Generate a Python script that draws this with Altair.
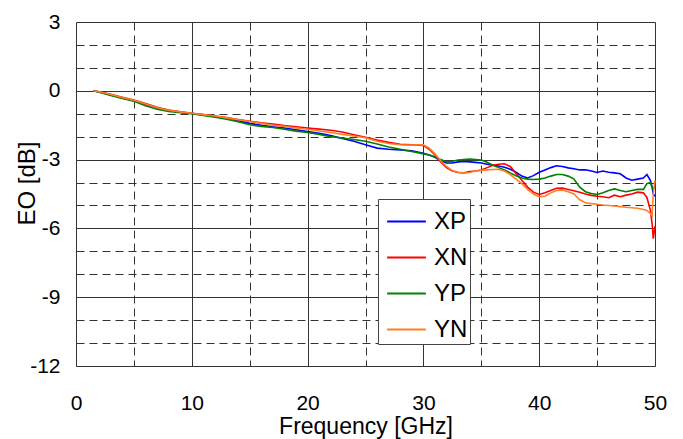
import altair as alt
import pandas as pd

freq = [1.5, 2, 3, 4, 5, 6, 7, 8, 9, 10, 11, 12, 13, 14, 15, 16, 17, 18, 19, 20,
        21, 22, 23, 24, 25, 26, 27, 28, 29, 30,
        30.5, 31, 31.5, 32, 32.5, 33, 33.5, 34, 34.5, 35, 35.5, 36, 36.5, 37, 37.5,
        38, 38.5, 39, 39.5, 40, 40.5, 41, 41.5, 42, 42.5, 43, 43.5, 44, 44.5, 45,
        45.5, 46, 46.5, 47, 47.5, 48, 48.5, 49,
        49.3, 49.6, 49.75, 49.85, 50]

xp = [0, -0.05, -0.18, -0.31, -0.43, -0.6, -0.75, -0.86, -0.93, -0.99,
      -1.05, -1.12, -1.2, -1.3, -1.42, -1.5, -1.57, -1.62, -1.7, -1.78,
      -1.85, -1.95, -2.08, -2.2, -2.35, -2.5, -2.55, -2.58, -2.62, -2.72,
      -2.8, -2.9, -3.05, -3.15, -3.15, -3.1, -3.08, -3.1, -3.12, -3.15,
      -3.2, -3.25, -3.28, -3.33, -3.42, -3.55, -3.72, -3.8, -3.7, -3.55,
      -3.45, -3.35, -3.27, -3.3, -3.36, -3.4, -3.45, -3.44, -3.5, -3.56,
      -3.5, -3.55, -3.58, -3.62, -3.8, -3.9, -3.85, -3.8,
      -3.65, -3.9, -4.2, -4.5, -4.6]

xn = [0, -0.04, -0.15, -0.28, -0.4, -0.55, -0.72, -0.84, -0.92, -0.98,
      -1.03, -1.1, -1.17, -1.25, -1.33, -1.4, -1.45, -1.52, -1.57, -1.62,
      -1.67, -1.72, -1.8, -1.92, -2.03, -2.15, -2.25, -2.33, -2.36, -2.38,
      -2.55, -2.8, -3.1, -3.35, -3.5, -3.56, -3.58, -3.52, -3.5, -3.45,
      -3.35, -3.25, -3.2, -3.18, -3.3, -3.6, -3.9, -4.2, -4.42, -4.52,
      -4.45, -4.35, -4.25, -4.24, -4.3, -4.36, -4.42, -4.5, -4.56, -4.6,
      -4.62, -4.66, -4.55, -4.62, -4.55, -4.5, -4.42, -4.45,
      -4.65, -5.2, -5.8, -6.45, -5.9]

yp = [0, -0.06, -0.2, -0.33, -0.46, -0.65, -0.8, -0.9, -0.95, -1.0,
      -1.07, -1.15, -1.24, -1.35, -1.48, -1.55, -1.6, -1.68, -1.76, -1.82,
      -1.9, -2.0, -2.06, -2.12, -2.2, -2.32, -2.45, -2.55, -2.65, -2.75,
      -2.8, -2.88, -3.0, -3.1, -3.07, -3.02, -3.0, -2.98, -3.0, -3.02,
      -3.12, -3.25, -3.35, -3.45, -3.58, -3.7, -3.8, -3.85, -3.87, -3.85,
      -3.8, -3.72, -3.65, -3.65, -3.72, -3.85, -4.2, -4.4, -4.48, -4.52,
      -4.45, -4.35, -4.28, -4.35, -4.4, -4.35, -4.3, -4.3,
      -4.05, -4.0, -4.2, -4.3, -4.2]

yn = [0, -0.04, -0.16, -0.29, -0.41, -0.58, -0.74, -0.85, -0.92, -0.98,
      -1.04, -1.1, -1.18, -1.26, -1.34, -1.42, -1.5, -1.55, -1.62, -1.68,
      -1.75, -1.82, -1.9, -1.97, -2.05, -2.2, -2.3, -2.35, -2.37, -2.35,
      -2.5, -2.75, -3.05, -3.3, -3.48, -3.55, -3.58, -3.56, -3.5, -3.47,
      -3.45, -3.43, -3.42, -3.5, -3.65, -3.85, -4.05, -4.3, -4.5, -4.62,
      -4.6, -4.45, -4.35, -4.32, -4.4, -4.5, -4.75, -4.88, -4.92, -4.95,
      -4.98, -5.0, -5.02, -5.05, -5.08, -5.1, -5.12, -5.18,
      -5.22, -5.35, -5.45, -4.5, -3.9]

series_names = ["XP", "XN", "YP", "YN"]
series_colors = ["#0000FF", "#FF0000", "#008000", "#FF7F27"]
x_ticks = [0, 5, 10, 15, 20, 25, 30, 35, 40, 45, 50]
y_ticks = list(range(-12, 4))

rows = []
for name, vals in zip(series_names, [xp, xn, yp, yn]):
    for i, (f, v) in enumerate(zip(freq, vals)):
        rows.append({"freq": f, "eo": v, "series": name, "order": i})
df = pd.DataFrame(rows)

FONT = "Liberation Sans"

chart = alt.Chart(df).mark_line(strokeWidth=1.6).encode(
    x=alt.X("freq:Q",
            scale=alt.Scale(domain=[0, 50], nice=False, zero=False),
            axis=alt.Axis(
                values=x_ticks,
                title="Frequency [GHz]",
                labelExpr="datum.value % 10 === 0 ? '' + datum.value : ''",
                labelFontSize=21, labelFont=FONT, labelColor="black",
                labelPadding=26, labelFlush=False, labelOverlap=False,
                tickSize=0, domain=False,
                grid=True, gridColor="#333333", gridWidth=1,
                gridDash={"condition": {"test": "datum.value % 10 === 0", "value": []},
                          "value": [8, 5]},
                titleFontSize=23, titleFont=FONT, titleFontWeight="normal",
                titleColor="black", titleBaseline="alphabetic", titleY=67)),
    y=alt.Y("eo:Q",
            scale=alt.Scale(domain=[-12, 3], nice=False, zero=False),
            axis=alt.Axis(
                values=y_ticks,
                title="EO [dB]",
                labelExpr="datum.value % 3 === 0 ? '' + datum.value : ''",
                labelFontSize=21, labelFont=FONT, labelColor="black",
                labelPadding=16, labelOverlap=False,
                tickSize=0, domain=False,
                grid=True, gridColor="#333333", gridWidth=1,
                gridDash={"condition": {"test": "datum.value % 3 === 0", "value": []},
                          "value": [8, 5]},
                titleFontSize=24, titleFont=FONT, titleFontWeight="normal",
                titleColor="black", titleBaseline="alphabetic",
                titleX=-42, titleY=161, titleAlign="center")),
    color=alt.Color("series:N",
                    scale=alt.Scale(domain=series_names, range=series_colors),
                    title=None,
                    legend=alt.Legend(orient="none", legendX=302, legendY=177,
                                      strokeColor="#444444", fillColor="white",
                                      padding=2, symbolOffset=6, symbolType="stroke",
                                      symbolSize=1500, symbolStrokeWidth=2,
                                      labelFontSize=24, labelFont=FONT,
                                      labelColor="black", labelOffset=7,
                                      rowPadding=3)),
    order="order:Q",
).properties(
    width=579, height=344,
    padding={"left": 68, "top": 14, "right": 20, "bottom": 73},
    autosize=alt.AutoSizeParams(type="none"),
).configure_view(stroke="black", strokeWidth=1).configure(font=FONT, background="white")

chart.save("out.html", embed_options={"renderer": "svg", "actions": False})
